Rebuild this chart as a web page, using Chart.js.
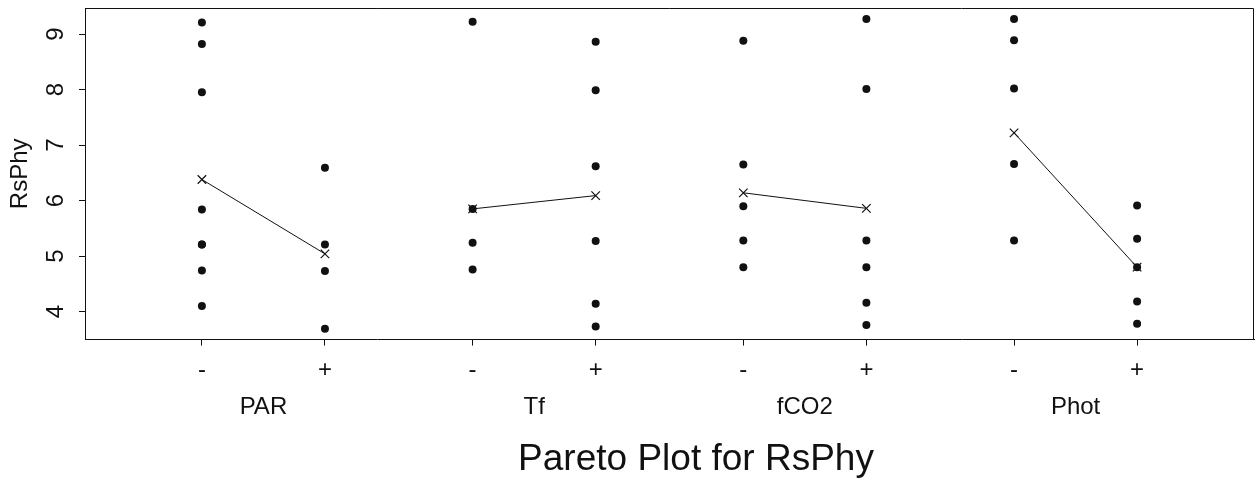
<!DOCTYPE html>
<html>
<head>
<meta charset="utf-8">
<script src="https://cdn.jsdelivr.net/npm/chart.js@4.4.1/dist/chart.umd.min.js"></script>
<style>
  html, body { margin: 0; padding: 0; background: #fff; }
</style>
</head>
<body>
<canvas id="pareto" width="1256" height="482"></canvas>
<script>
// factors and level labels
const factors = ['PAR', 'Tf', 'fCO2', 'Phot'];
const levels = ['-', '+'];
const yTicks = [4, 5, 6, 7, 8, 9];

// observed RsPhy at the low (-) and high (+) level of each factor
const parLow = [9.21, 8.82, 7.95, 5.84, 5.21, 5.21, 4.74, 4.10];
const parHigh = [6.59, 5.21, 4.73, 3.69];
const tfLow = [9.22, 5.85, 5.24, 4.76];
const tfHigh = [8.86, 7.99, 6.62, 5.27, 4.14, 3.73];
const fco2Low = [8.88, 6.65, 5.90, 5.28, 4.80];
const fco2High = [9.27, 8.01, 5.28, 4.80, 4.16, 3.76];
const photLow = [9.27, 8.89, 8.02, 6.66, 5.28];
const photHigh = [5.91, 5.31, 4.80, 4.18, 3.78];

// level means (the x marks)
const lowMeans = [6.38, 5.85, 6.14, 7.22];
const highMeans = [5.04, 6.09, 5.86, 4.80];

const lowObs = [parLow, tfLow, fco2Low, photLow];
const highObs = [parHigh, tfHigh, fco2High, photHigh];

// slot on the x scale: each factor has two level slots, groups spaced apart
const GROUP_STEP = 2.2;
function slot(g, lvl) {
    return g * GROUP_STEP + lvl;
}

const FONT = 'Liberation Sans, Arial, Helvetica, sans-serif';
const INK = '#111';

// all observation dots
const dots = [];
factors.forEach((f, g) => {
    lowObs[g].forEach(v => dots.push({ x: slot(g, 0), y: v }));
    highObs[g].forEach(v => dots.push({ x: slot(g, 1), y: v }));
});

const datasets = [{
    label: 'obs',
    data: dots,
    pointRadius: 4,
    pointBackgroundColor: INK,
    pointBorderColor: INK,
    pointBorderWidth: 0,
    showLine: false
}];

// mean line per factor
factors.forEach((f, g) => {
    datasets.push({
        label: f + ' mean',
        data: [{ x: slot(g, 0), y: lowMeans[g] }, { x: slot(g, 1), y: highMeans[g] }],
        showLine: true,
        borderColor: INK,
        borderWidth: 1,
        pointStyle: 'crossRot',
        pointRadius: 6,
        pointBorderWidth: 1.2,
        pointBorderColor: INK,
        pointBackgroundColor: INK
    });
});

const tickSlots = [];
factors.forEach((f, g) => { tickSlots.push(slot(g, 0), slot(g, 1)); });
const groupSlots = factors.map((f, g) => slot(g, 0.5));

// frame on top and right of the plot area
const framePlugin = {
    id: 'frame',
    afterLayout(chart) {
        // title sits a bit right of the page centre in the original
        const t = chart.titleBlock;
        if (t) { t.left += 69; t.right += 69; }
    },
    afterDraw(chart) {
        const { ctx, chartArea: a } = chart;
        ctx.save();
        ctx.strokeStyle = INK;
        ctx.lineWidth = 1;
        ctx.beginPath();
        ctx.moveTo(a.left, a.top + 0.5);
        ctx.lineTo(a.right - 0.5, a.top + 0.5);
        ctx.lineTo(a.right - 0.5, a.bottom);
        ctx.stroke();
        ctx.restore();
    }
};

new Chart(document.getElementById('pareto'), {
    type: 'scatter',
    data: { datasets },
    options: {
        responsive: false,
        animation: false,
        devicePixelRatio: 1,
        layout: { autoPadding: false, padding: { top: 8, right: 2, left: 0, bottom: 0 } },
        plugins: {
            legend: { display: false },
            tooltip: { enabled: false },
            title: {
                display: true,
                text: 'Pareto Plot for RsPhy',
                position: 'bottom',
                color: INK,
                font: { family: FONT, size: 37, weight: 'normal' },
                padding: { top: 1, bottom: 0 }
            }
        },
        scales: {
            x: {
                type: 'linear',
                position: 'bottom',
                weight: 1,
                min: -0.95,
                max: 8.55,
                afterBuildTicks(scale) {
                    scale.ticks = tickSlots.map(v => ({ value: v }));
                },
                afterFit(scale) {
                    scale.height = 48;
                    scale.paddingLeft = 0;
                    scale.paddingRight = 0;
                },
                grid: { drawOnChartArea: false, tickLength: 6, color: INK },
                border: { display: true, color: INK, width: 1 },
                ticks: {
                    color: INK,
                    padding: 10,
                    maxRotation: 0,
                    autoSkip: false,
                    font: { family: FONT, size: 24 },
                    callback: (v, i) => levels[i % 2]
                }
            },
            groups: {
                type: 'linear',
                position: 'bottom',
                weight: 2,
                min: -0.95,
                max: 8.55,
                afterBuildTicks(scale) {
                    scale.ticks = groupSlots.map(v => ({ value: v }));
                },
                afterFit(scale) {
                    scale.height = 49;
                    scale.paddingLeft = 0;
                    scale.paddingRight = 0;
                },
                grid: { display: false, drawTicks: false },
                border: { display: false },
                ticks: {
                    color: INK,
                    padding: 5,
                    maxRotation: 0,
                    autoSkip: false,
                    font: { family: FONT, size: 24 },
                    callback: (v, i) => factors[i]
                }
            },
            y: {
                type: 'linear',
                position: 'left',
                min: 3.495,
                max: 9.47,
                afterBuildTicks(scale) {
                    scale.ticks = yTicks.map(v => ({ value: v }));
                },
                afterFit(scale) {
                    scale.width = 85;
                    scale.paddingTop = 0;
                    scale.paddingBottom = 0;
                },
                grid: { drawOnChartArea: false, tickLength: 6, color: INK },
                border: { display: true, color: INK, width: 1 },
                title: {
                    display: true,
                    text: 'RsPhy',
                    color: INK,
                    font: { family: FONT, size: 24 },
                    padding: { top: 6, bottom: 0 }
                },
                ticks: {
                    color: INK,
                    padding: 16,
                    minRotation: 90,
                    maxRotation: 90,
                    crossAlign: 'center',
                    font: { family: FONT, size: 24 },
                    callback: v => String(v)
                }
            }
        }
    },
    plugins: [framePlugin]
});
</script>
</body>
</html>
